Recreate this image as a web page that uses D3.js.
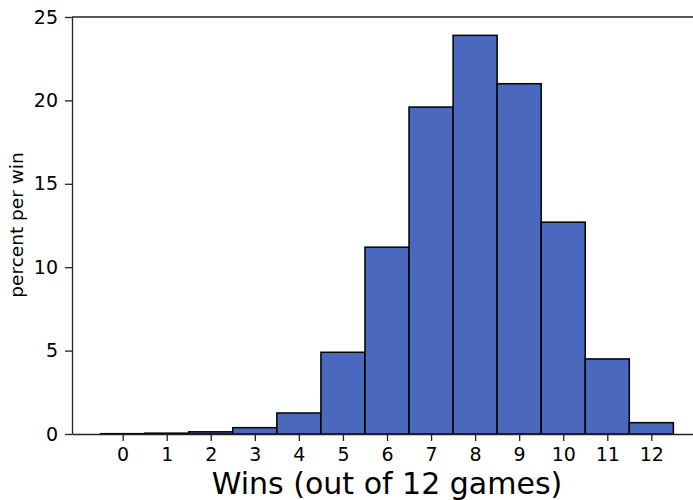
<!DOCTYPE html>
<html>
<head>
<meta charset="utf-8">
<script src="https://cdn.jsdelivr.net/npm/d3@7"></script>
<style>
  body { margin: 0; background: #fff; }
  svg { display: block; font-family: "DejaVu Sans", sans-serif; }
</style>
</head>
<body>
<svg id="chart" width="693" height="500"></svg>
<script>
const wins = [0, 1, 2, 3, 4, 5, 6, 7, 8, 9, 10, 11, 12];
const percents = [0.02, 0.05, 0.13, 0.38, 1.26, 4.9, 11.2, 19.6, 23.9, 21.0, 12.7, 4.5, 0.68];
const yTicks = [0, 5, 10, 15, 20, 25];

const svg = d3.select("#chart");

const margin = { top: 17, left: 72, bottom: 434, right: 702 };

const x = d3.scaleLinear().domain([-1.15, 13.15]).range([margin.left, margin.right]);
const y = d3.scaleLinear().domain([0, 25]).range([margin.bottom, margin.top]);

// bars, one per win count, width 1
svg.append("g")
  .selectAll("rect")
  .data(wins)
  .enter()
  .append("rect")
  .attr("x", (d) => x(d - 0.5))
  .attr("width", (d) => x(d + 0.5) - x(d - 0.5))
  .attr("y", (d, i) => y(percents[i]))
  .attr("height", (d, i) => y(0) - y(percents[i]))
  .attr("fill", "#4a68be")
  .attr("stroke", "#000")
  .attr("stroke-width", 1.5);

// axes
const xAxis = svg.append("g")
  .attr("transform", `translate(0,${margin.bottom})`)
  .call(d3.axisBottom(x).tickValues(wins).tickSizeInner(7).tickSizeOuter(0).tickPadding(7));

const yAxis = svg.append("g")
  .attr("transform", `translate(${margin.left},0)`)
  .call(d3.axisLeft(y).tickValues(yTicks).tickSizeInner(7).tickSizeOuter(0).tickPadding(7));

[xAxis, yAxis].forEach((ax) => {
  ax.select(".domain").attr("stroke", "#222").attr("stroke-width", 1.3);
  ax.selectAll(".tick line").attr("stroke", "#222").attr("stroke-width", 1.3);
  ax.selectAll(".tick text")
    .attr("fill", "#000")
    .style("font-size", "19px")
    .style("font-family", "DejaVu Sans");
});

// top frame line
svg.append("line")
  .attr("x1", margin.left)
  .attr("x2", margin.right)
  .attr("y1", margin.top)
  .attr("y2", margin.top)
  .attr("stroke", "#222")
  .attr("stroke-width", 1.3);

// labels
svg.append("text")
  .attr("x", x(6))
  .attr("y", 494)
  .attr("text-anchor", "middle")
  .style("font-size", "30px")
  .attr("fill", "#000")
  .text("Wins (out of 12 games)");

svg.append("text")
  .attr("transform", `translate(23,${(153 + 297) / 2}) rotate(-90)`)
  .attr("text-anchor", "middle")
  .style("font-size", "18.5px")
  .attr("fill", "#000")
  .text("percent per win");
</script>
</body>
</html>
